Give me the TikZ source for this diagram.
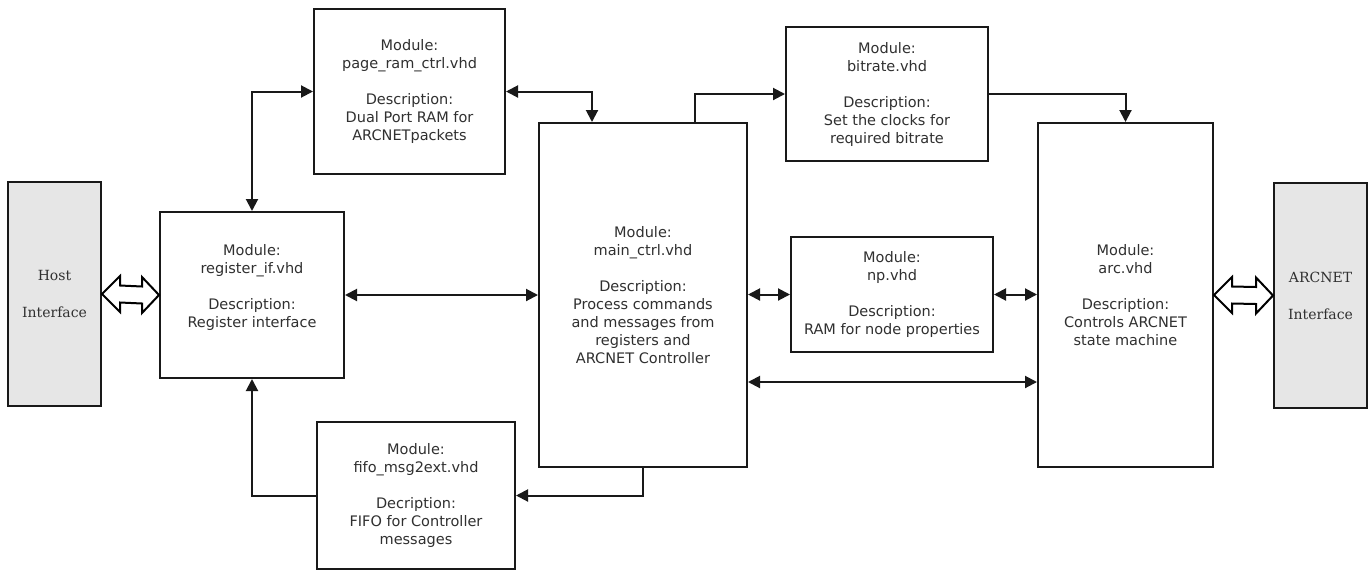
\documentclass[tikz,border=0pt]{standalone}
\usepackage{fontspec}
\setmainfont{DejaVu Sans}
\newfontfamily\serifface{DejaVu Serif}
\usetikzlibrary{arrows.meta,calc}
\definecolor{txt}{HTML}{303030}
\definecolor{ifill}{HTML}{E6E6E6}
\begin{document}
\begin{tikzpicture}[x=1pt,y=-1pt,
  box/.style={draw=black!90, line width=2pt, fill=white, align=center, inner sep=0pt,
    text=txt, font=\fontsize{14.5}{18}\selectfont},
  iface/.style={draw=black!90, line width=2pt, fill=ifill, align=center, inner sep=0pt,
    text=txt, font=\serifface\fontsize{14}{37}\selectfont},
  conn/.style={line width=2pt, draw=black!90},
  tip/.tip={Triangle[length=12pt,width=12pt]},
  hollow/.style={line width=2pt, draw=black, fill=white, line join=miter}]
\useasboundingbox (0,0) rectangle (1372,571);

\node[iface, minimum width=93pt, minimum height=224pt] (host) at (54.5,294) {Host\\Interface};
\node[iface, minimum width=93pt, minimum height=225pt] (arcnet) at (1320.5,295.5) {ARCNET\\Interface};

\node[box, minimum width=184pt, minimum height=166pt] (reg) at (252,295)
  {Module:\\register\_if.vhd\\[18pt]Description:\\Register interface\\~};
\node[box, minimum width=191pt, minimum height=165pt] (page) at (409.5,91.5)
  {Module:\\page\_ram\_ctrl.vhd\\[18pt]Description:\\Dual Port RAM for\\ARCNETpackets};
\node[box, minimum width=208pt, minimum height=344pt] (main) at (643,295)
  {Module:\\main\_ctrl.vhd\\[18pt]Description:\\Process commands\\and messages from\\registers and\\ARCNET Controller};
\node[box, minimum width=198pt, minimum height=147pt] (fifo) at (416,495.5)
  {Module:\\fifo\_msg2ext.vhd\\[18pt]Decription:\\FIFO for Controller\\messages};
\node[box, minimum width=202pt, minimum height=134pt] (bitrate) at (887,94)
  {Module:\\bitrate.vhd\\[18pt]Description:\\Set the clocks for\\required bitrate};
\node[box, minimum width=202pt, minimum height=115pt] (np) at (892,294.5)
  {Module:\\np.vhd\\[18pt]Description:\\RAM for node properties};
\node[box, minimum width=175pt, minimum height=344pt] (arc) at (1125.5,295)
  {Module:\\arc.vhd\\[18pt]Description:\\Controls ARCNET\\state machine};

\coordinate (mainlow) at ([yshift=-87pt]main.east);

% connectors
\draw[conn, tip-tip] (reg.north) |- (page.west);
\draw[conn, tip-tip] (page.east) -| ([xshift=-51pt]main.north);
\draw[conn, -tip] ([xshift=52pt]main.north) |- (bitrate.west);
\draw[conn, -tip] (bitrate.east) -| (arc.north);
\draw[conn, tip-tip] (reg.east) -- (main.west);
\draw[conn, tip-tip] (main.east |- np.west) -- (np.west);
\draw[conn, tip-tip] (np.east) -- (arc.west |- np.east);
\draw[conn, tip-tip] (mainlow) -- (arc.west |- mainlow);
\draw[conn, -tip] (main.south) |- (fifo.east);
\draw[conn, -tip] (fifo.west) -| (reg.south);

% hollow double arrows
\draw[hollow] (host.east) -- ++(18,-18) -- ++(0,9.5) -- ($(reg.west)+(-17,-8.5)$) -- ++(0,-9.5)
  -- (reg.west) -- ++(-17,18) -- ++(0,-9.5) -- ($(host.east)+(18,8.5)$) -- ++(0,9.5) -- cycle;
\draw[hollow] (arc.east) -- ++(18,-18) -- ++(0,9.5) -- ($(arcnet.west)+(-17,-8.5)$) -- ++(0,-9.5)
  -- (arcnet.west) -- ++(-17,18) -- ++(0,-9.5) -- ($(arc.east)+(18,8.5)$) -- ++(0,9.5) -- cycle;
\end{tikzpicture}
\end{document}
